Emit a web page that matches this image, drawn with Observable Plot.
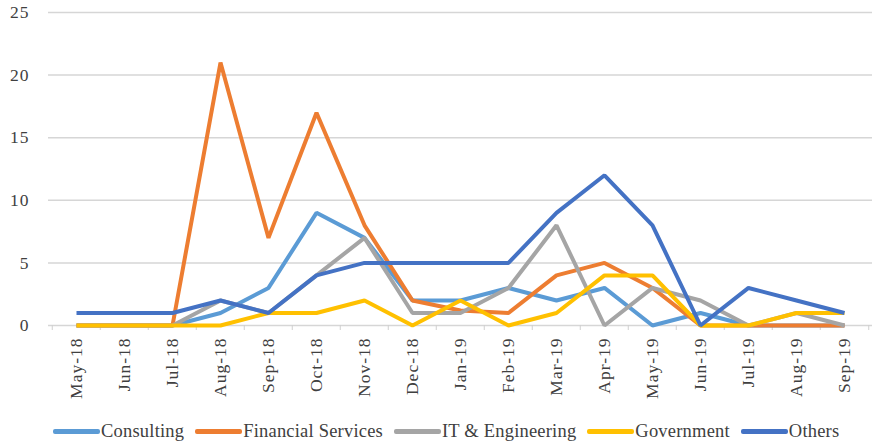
<!DOCTYPE html>
<html>
<head>
<meta charset="utf-8">
<script src="https://cdn.jsdelivr.net/npm/d3@7"></script>
<script src="https://cdn.jsdelivr.net/npm/@observablehq/plot@0.6"></script>
<style>
  html, body { margin: 0; padding: 0; background: #fff; }
  #chart { width: 876px; height: 445px; position: relative; overflow: hidden; }
  #legend {
    display: flex; align-items: center; justify-content: flex-start;
    height: 23px; padding-top: 8px; padding-left: 53px;
    font-family: "Liberation Serif", "Times New Roman", serif; font-size: 18.5px;
    color: #404040; letter-spacing: 0.2px;
  }
  .item { display: flex; align-items: center; margin-right: 11px; white-space: nowrap; }
  .sw { display: inline-block; width: 47px; height: 4.5px; border-radius: 2px; margin-right: 1px; }
</style>
</head>
<body>
<div id="chart"></div>
<script>
const months = ["May-18","Jun-18","Jul-18","Aug-18","Sep-18","Oct-18","Nov-18","Dec-18","Jan-19","Feb-19","Mar-19","Apr-19","May-19","Jun-19","Jul-19","Aug-19","Sep-19"];
const seriesNames = ["Consulting","Financial Services","IT & Engineering","Government","Others"];
const seriesColors = ["#5B9BD5","#ED7D31","#A5A5A5","#FFC000","#4472C4"];
const consulting = [0,0,0,1,3,9,7,2,2,3,2,3,0,1,0,0,0];
const financial  = [0,0,0,21,7,17,8,2,1.2,1,4,5,3,0,0,0,0];
const itEng      = [0,0,0,2,1,4,7,1,1,3,8,0,3,2,0,1,0];
const government = [0,0,0,0,1,1,2,0,2,0,1,4,4,0,0,1,1];
const others     = [1,1,1,2,1,4,5,5,5,5,9,12,8,0,3,2,1];
const yTicks = [0,5,10,15,20,25];

const seriesValues = [consulting, financial, itEng, government, others];
const data = [];
seriesNames.forEach((name, i) => {
  months.forEach((m, j) => data.push({series: name, month: m, value: seriesValues[i][j]}));
});

const W = 876, H = 412, ML = 48, MR = 4;
const bw = (W - ML - MR) / months.length;

const chart = Plot.plot({
  width: W, height: H,
  marginTop: 12, marginBottom: 87, marginLeft: ML, marginRight: MR,
  style: {fontFamily: "'Liberation Serif', 'Times New Roman', serif", fontSize: "17.5px", color: "#404040", background: "#fff", letterSpacing: "1px"},
  x: {type: "band", domain: months, padding: 0, label: null},
  y: {domain: [0, 25], label: null},
  color: {domain: seriesNames, range: seriesColors},
  marks: [
    Plot.ruleY(yTicks, {stroke: "#d6d6d6", strokeWidth: 1.5}),
    Plot.axisY(yTicks, {tickSize: 0, tickPadding: 19, label: null, fill: "#404040"}),
    Plot.axisX({tickSize: 0, tickRotate: -90, tickPadding: 12, label: null, fill: "#404040"}),
    Plot.axisX({tickSize: 5, tickFormat: () => "", dx: -bw / 2, stroke: "#d0d0d0", label: null}),
    Plot.axisX([months[months.length - 1]], {tickSize: 5, tickFormat: () => "", dx: bw / 2, stroke: "#d0d0d0", label: null}),
    Plot.lineY(data, {x: "month", y: "value", z: "series", stroke: "series", strokeWidth: 4, strokeLinejoin: "miter", strokeLinecap: "butt"})
  ]
});

const container = document.getElementById("chart");
container.appendChild(chart);

const legend = document.createElement("div");
legend.id = "legend";
seriesNames.forEach((name, i) => {
  const item = document.createElement("div");
  item.className = "item";
  const sw = document.createElement("span");
  sw.className = "sw";
  sw.style.background = seriesColors[i];
  const label = document.createElement("span");
  label.textContent = name;
  item.appendChild(sw);
  item.appendChild(label);
  legend.appendChild(item);
});
container.appendChild(legend);
</script>
</body>
</html>
